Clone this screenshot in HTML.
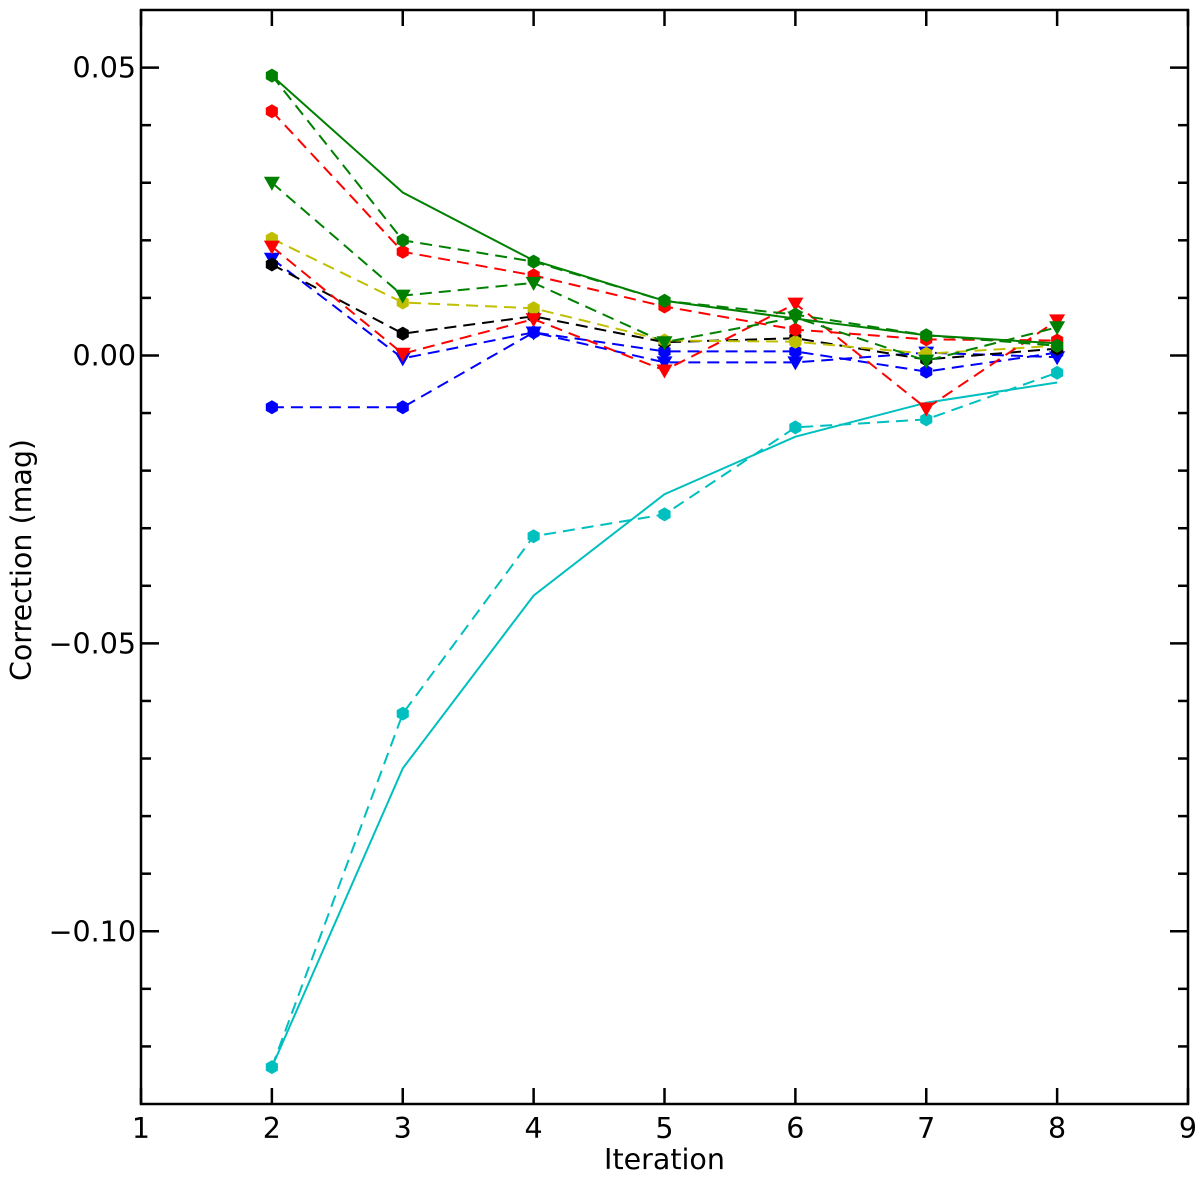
<!DOCTYPE html>
<html><head><meta charset="utf-8"><style>
body{margin:0;background:#fff}
svg text{font-family:"DejaVu Sans","Liberation Sans",sans-serif;fill:#000}
</style></head><body>
<svg id="chart" width="1200" height="1180" xmlns="http://www.w3.org/2000/svg"></svg>
<script>
const iterations=[2,3,4,5,6,7,8];
const greenSolid=[0.0486,0.0283,0.0165,0.0095,0.0064,0.0035,0.0021];
const greenHex=[0.0486,0.0200,0.0163,0.0095,0.0071,0.0035,0.0017];
const greenTri=[0.0300,0.0104,0.0126,0.0023,0.0066,-0.0009,0.0049];
const redHex=[0.0424,0.0180,0.0139,0.0085,0.0045,0.0028,0.0026];
const redTri=[0.0189,0.0003,0.0063,-0.0026,0.0090,-0.0092,0.0061];
const yellowHex=[0.0203,0.0092,0.0082,0.0026,0.0024,0.0003,0.0017];
const blackHex=[0.0158,0.0038,0.0068,0.0023,0.0030,-0.0007,0.0012];
const blueTri=[0.0168,-0.0005,0.0040,-0.0012,-0.0012,0.0005,-0.0003];
const blueHex=[-0.0090,-0.0090,0.0040,0.0007,0.0007,-0.0028,0.0005];
const cyanHex=[-0.1236,-0.0622,-0.0314,-0.0276,-0.0125,-0.0111,-0.0030];
const cyanSolid=[-0.1236,-0.0717,-0.0417,-0.0241,-0.0141,-0.0082,-0.0047];
const xTicks=[1,2,3,4,5,6,7,8,9];
const yTicks=[0.05,0,-0.05,-0.10];
const yTickLabels=["0.05","0.00","\u22120.05","\u22120.10"];

const L=141,R=1188,T=10,B=1104;
const X0=1,X1=9,Y0=-0.13,Y1=0.06;
const sx=v=>L+(v-X0)/(X1-X0)*(R-L);
const sy=v=>B-(v-Y0)/(Y1-Y0)*(B-T);
const svg=document.getElementById('chart');
const NS='http://www.w3.org/2000/svg';
function mk(tag,attrs){const e=document.createElementNS(NS,tag);for(const k in attrs)e.setAttribute(k,attrs[k]);svg.appendChild(e);return e;}

for(const t of xTicks){
  const a=mk('line',{x1:sx(t),x2:sx(t),y1:B,y2:B-16,stroke:'#000','stroke-width':2.5});
  
  
  const b=mk('line',{x1:sx(t),x2:sx(t),y1:T,y2:T+16,stroke:'#000','stroke-width':2.5});
  
  
  const tx=mk('text',{x:sx(t),y:1138,'font-size':28.5,'text-anchor':'middle'});
  tx.textContent=t;
  
  
}
for(let i=-12;i<=5;i++){
  const v=i/100;const major=(i%5===0);const len=major?18:10;
  const a=mk('line',{x1:L,x2:L+len,y1:sy(v),y2:sy(v),stroke:'#000','stroke-width':2.5});
  
  
  const b=mk('line',{x1:R,x2:R-len,y1:sy(v),y2:sy(v),stroke:'#000','stroke-width':2.5});
  
  
}
yTicks.forEach((v,i)=>{
  const tx=mk('text',{x:136,y:sy(v)+10,'font-size':28.5,'text-anchor':'end'});
  tx.textContent=yTickLabels[i];
  
  
});

function hex(cx,cy,r){let p=[];for(let k=0;k<6;k++){const a=Math.PI/6+k*Math.PI/3;p.push((cx+r*Math.cos(a)).toFixed(1)+','+(cy+r*Math.sin(a)).toFixed(1));}return p.join(' ');}
function tri(cx,cy,r){return `${cx-r},${cy-r*0.75} ${cx+r},${cy-r*0.75} ${cx},${cy+r}`;}
function series(name,vals,color,dashed,marker){
  const pts=iterations.map((x,i)=>sx(x).toFixed(1)+','+sy(vals[i]).toFixed(1)).join(' ');
  const pl=mk('polyline',{points:pts,fill:'none',stroke:color,'stroke-width':2,'stroke-dasharray':dashed?'12,7':'none'});
  
  
  if(!marker)return;
  iterations.forEach((x,i)=>{
    const cx=sx(x),cy=sy(vals[i]);
    const m=mk('polygon',{points:marker==='hex'?hex(cx,cy,7):tri(cx,cy,8),fill:color});
    
    
  });
}
series('cyan-solid',cyanSolid,'#00bfbf',false,null);
series('cyan-hex',cyanHex,'#00bfbf',true,'hex');
series('blue-hex',blueHex,'#0000ff',true,'hex');
series('blue-tri',blueTri,'#0000ff',true,'tri');
series('black-hex',blackHex,'#000000',true,'hex');
series('yellow-hex',yellowHex,'#bfbf00',true,'hex');
series('red-tri',redTri,'#ff0000',true,'tri');
series('red-hex',redHex,'#ff0000',true,'hex');
series('green-tri',greenTri,'#008000',true,'tri');
series('green-hex',greenHex,'#008000',true,'hex');
series('green-solid',greenSolid,'#008000',false,null);

const fr=mk('rect',{x:L,y:T,width:R-L,height:B-T,fill:'none',stroke:'#000','stroke-width':2.5});


const xt=mk('text',{x:(L+R)/2,y:1169,'font-size':28.5,'text-anchor':'middle'});
xt.textContent='Iteration';


const yt=mk('text',{x:0,y:0,'font-size':28.5,'text-anchor':'middle',transform:`translate(31,${(T+B)/2+3}) rotate(-90)`});
yt.textContent='Correction (mag)';


</script>
</body></html>
